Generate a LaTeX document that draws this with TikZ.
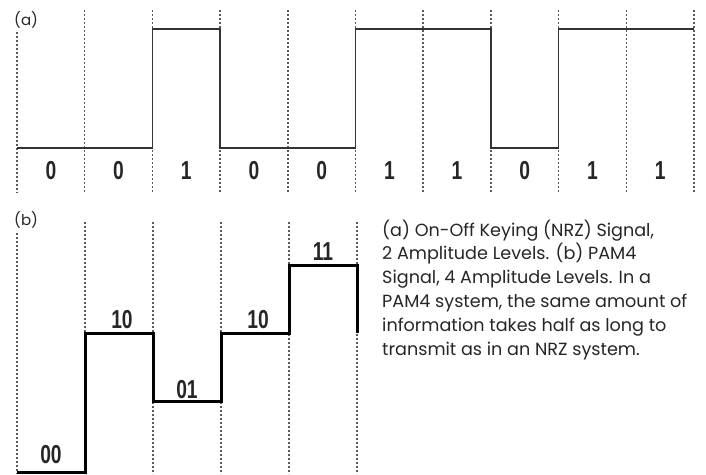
\documentclass[tikz,border=0pt]{standalone}
\usepackage{fontspec}
\setmainfont{Poppins}
\newfontfamily\digitf{Liberation Sans}
\newcommand{\dg}[1]{\scalebox{0.74}[1]{#1}}
\begin{document}
\begin{tikzpicture}[x=1pt,y=-1pt,
  grid/.style={draw=black!65, line width=1.5pt, dash pattern=on 2.4pt off 1.6pt},
  nrz/.style={draw=black!80, line width=1.4pt},
  pam/.style={draw=black, line width=3pt},
  bit/.style={font=\digitf\bfseries\fontsize{26}{26}\selectfont, text=black!85, inner sep=0pt, anchor=base},
  panel/.style={font=\fontsize{15}{15}\selectfont, text=black!85, inner sep=0pt, anchor=base west},
  caption/.style={font=\fontsize{17.6}{23.8}\selectfont, text=black!85, inner sep=0pt, anchor=base west, align=left}]
\useasboundingbox (0,0) rectangle (706,474);
% ---- panel (a)
\node[panel] (la) at (14,25) {(a)};
\foreach \i in {0,...,10}{
  \pgfmathsetmacro{\xx}{17+67.7*\i}
  \ifnum\i=0 \draw[grid] (\xx,32) -- (\xx,193);
  \else \draw[grid] (\xx,10) -- (\xx,193); \fi
}
\draw[nrz] (17,148) -- (152.4,148) -- (152.4,29) -- (220.1,29) -- (220.1,148)
  -- (355.5,148) -- (355.5,29) -- (490.9,29) -- (490.9,148) -- (558.6,148)
  -- (558.6,29) -- (694,29);
\foreach \b [count=\k from 0] in {0,0,1,0,0,1,1,0,1,1}{
  \pgfmathsetmacro{\cx}{17+67.7*\k+33.85}
  \node[bit] (ba\k) at (\cx,179) {\dg{\b}};
}
% ---- panel (b)
\node[panel] (lb) at (14,225) {(b)};
\foreach \i in {0,...,5}{
  \pgfmathsetmacro{\xx}{17+68*\i}
  \ifnum\i=0 \draw[grid] (\xx,233) -- (\xx,474);
  \else \draw[grid] (\xx,222) -- (\xx,474); \fi
}
\draw[pam] (17,472) -- (85,472) -- (85,333) -- (153,333) -- (153,401) -- (221,401)
  -- (221,333) -- (289,333) -- (289,265) -- (357,265) -- (357,333);
\node[bit] (b0) at (51,463) {\dg{00}};
\node[bit] (b1) at (122,328) {\dg{10}};
\node[bit] (b2) at (187,398) {\dg{01}};
\node[bit] (b3) at (258,328) {\dg{10}};
\node[bit] (b4) at (323,260) {\dg{11}};
% ---- caption (anchored at the baseline of its last line)
\node[caption] (cap) at (382,355) {(a) On-Off Keying (NRZ) Signal,\\
2 Amplitude Levels. (b) PAM4\\
Signal, 4 Amplitude Levels. In a\\
PAM4 system, the same amount of\\
information takes half as long to\\
transmit as in an NRZ system.};
\end{tikzpicture}
\end{document}
